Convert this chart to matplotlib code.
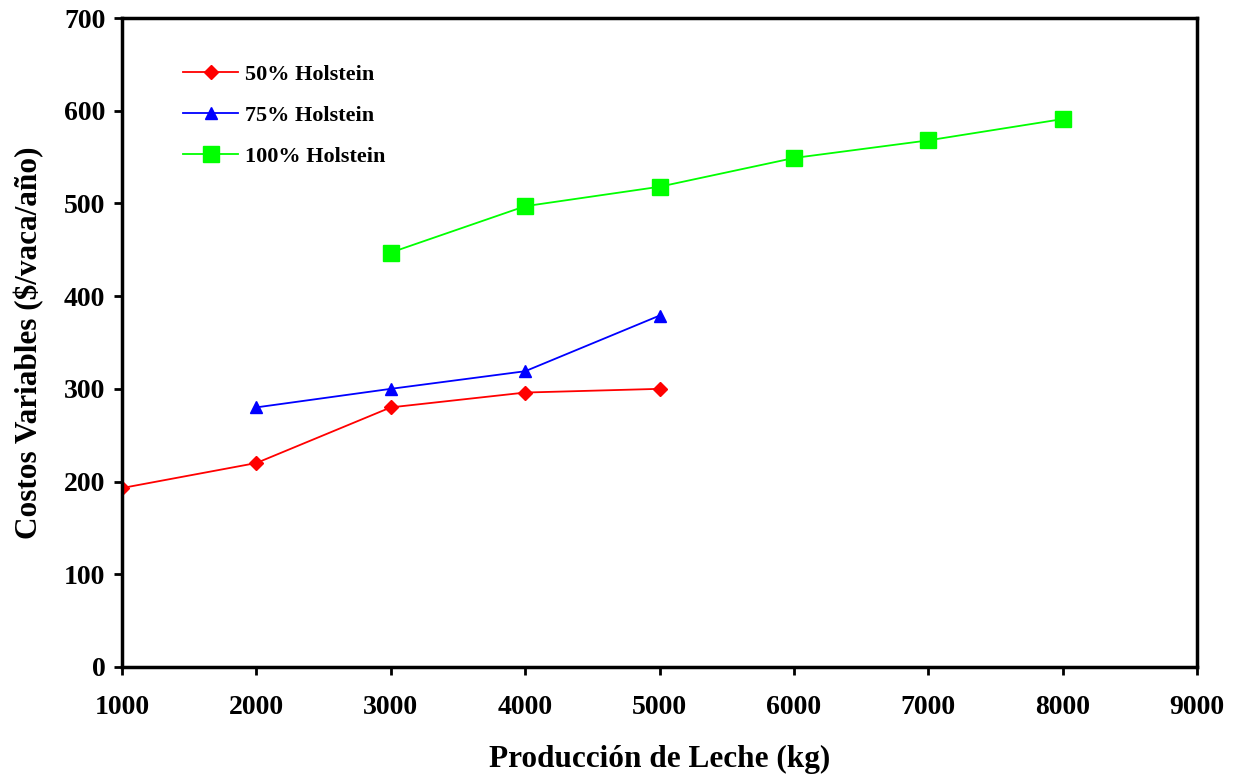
import numpy as np
from matplotlib import pyplot as plt

plt.rcParams['font.family'] = ['Liberation Serif', 'DejaVu Serif']
plt.rcParams['font.weight'] = 'bold'

x50 = [1000, 2000, 3000, 4000, 5000]
y50 = [193, 220, 280, 296, 300]
x75 = [2000, 3000, 4000, 5000]
y75 = [280, 300, 319, 379]
x100 = [3000, 4000, 5000, 6000, 7000, 8000]
y100 = [447, 497, 518, 549, 568, 591]

fig = plt.figure(figsize=(12.41, 7.76), dpi=100)
ax = fig.add_axes([0.0983, 0.1405, 0.8663, 0.8363])

ax.plot(x50, y50, color='#ff0000', marker='D', markersize=7.5, lw=1.3, label='50% Holstein')
ax.plot(x75, y75, color='#0000ff', marker='^', markersize=9, lw=1.3, label='75% Holstein')
ax.plot(x100, y100, color='#00ff00', marker='s', markersize=11.5, lw=1.3, label='100% Holstein')

ax.set_xlim(1000, 9000)
ax.set_ylim(0, 700)
ax.set_xticks(np.arange(1000, 9001, 1000))
ax.set_yticks(np.arange(0, 701, 100))
for s in ax.spines.values():
    s.set_linewidth(2.5)
ax.tick_params(direction='out', length=6, width=2, labelsize=20)
ax.tick_params(axis='x', pad=14)
ax.tick_params(axis='y', pad=6)
for t in ax.get_xticklabels() + ax.get_yticklabels():
    t.set_fontweight('bold')

ax.set_xlabel('Producción de Leche (kg)', fontsize=22.5, fontweight='bold', labelpad=18)
ax.set_ylabel('Costos Variables ($/vaca/año)', fontsize=22.5, fontweight='bold', labelpad=14)

leg = ax.legend(loc='upper left', bbox_to_anchor=(0.038, 0.96), frameon=False,
                prop={'size': 16, 'weight': 'bold'}, handlelength=2.5,
                handletextpad=0.3, labelspacing=0.92)

fig.savefig('out.png', dpi=100)
